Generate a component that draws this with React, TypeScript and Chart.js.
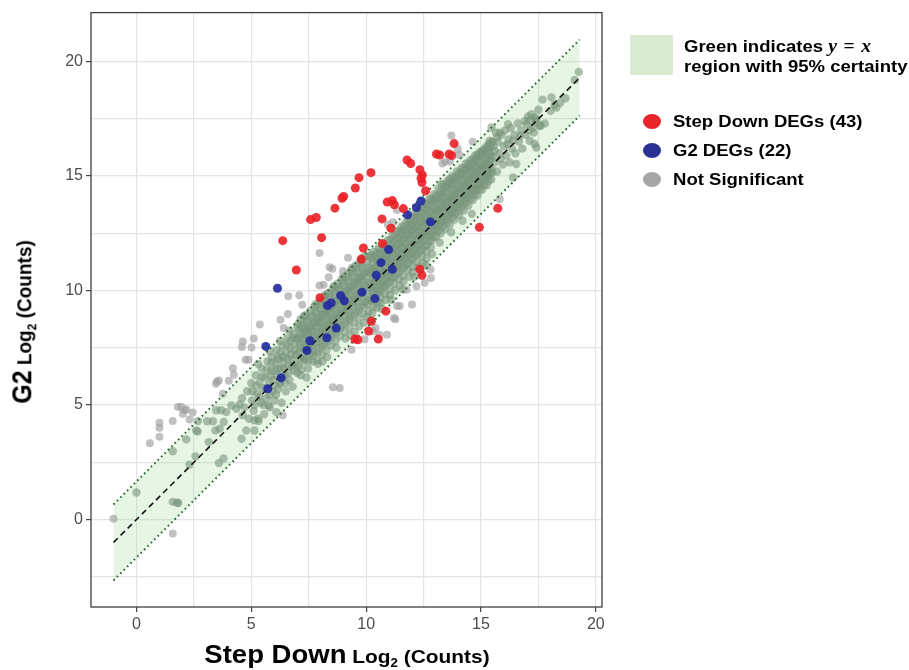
import { useEffect, useRef } from "react";
import { Chart, registerables } from "chart.js";

Chart.register(...registerables);

const FONT = '"Liberation Sans", Arial, Helvetica, sans-serif';

// axis ranges and ticks
const xRange = [-1.98, 20.27];
const yRange = [-3.82, 22.14];
const xGridTicks = [0, 2.5, 5, 7.5, 10, 12.5, 15, 17.5, 20];
const yGridTicks = [-2.5, 0, 2.5, 5, 7.5, 10, 12.5, 15, 17.5, 20];
const tickLabels = [0, 5, 10, 15, 20];

// reference lines (y = x and the 95% band)
const refX = [-1, 19.3];
const refY = [-1, 19.3];
const bandUpperY = [0.66, 20.96];
const bandLowerY = [-2.66, 17.64];

// Not significant, outside the band
const nsOutside: [number, number][] = [
  [-1.0, 0.03], [1.58, -0.61], [0.58, 3.33], [1.0, 4.23], [1.0, 4.01], [1.0, 3.62], [1.58, 4.3], [1.8, 4.91],
  [2.02, 4.62], [2.17, 4.81], [2.45, 4.67], [2.31, 4.37], [1.95, 4.93], [2.09, 4.77],
  [3.5, 6.03], [3.59, 6.07], [4.02, 6.06], [4.2, 6.61], [4.24, 6.32], [3.46, 5.93], [3.76, 5.49], [4.63, 7.78],
  [4.59, 7.53], [5.01, 7.51], [5.11, 7.91], [4.75, 6.98], [4.88, 6.98], [5.37, 8.52], [6.27, 8.72], [6.59, 8.98],
  [6.41, 8.37], [6.61, 9.75], [7.09, 9.8], [7.22, 9.38], [8.15, 10.25], [7.97, 10.22], [8.53, 10.95], [8.37, 10.58],
  [8.99, 10.86], [7.97, 11.64], [9.21, 11.43], [8.41, 11.02], [10.94, 12.88], [11.17, 12.98], [11.34, 13.52],
  [13.32, 15.55], [13.44, 15.63], [13.65, 15.64], [13.71, 16.77], [13.99, 16.18], [14.07, 15.92], [14.64, 16.5],
  [6.37, 4.55], [8.55, 5.78], [8.85, 5.74], [9.36, 7.41], [9.93, 7.87], [10.3, 8.22], [10.41, 8.36], [10.58, 8.07],
  [10.91, 8.07], [11.21, 8.8], [11.27, 8.75], [11.34, 9.33], [11.46, 9.33], [12.0, 9.39], [11.76, 10.04],
  [12.19, 10.19], [12.55, 10.34], [12.8, 10.92], [12.82, 10.55], [15.82, 14.0],
];

// Not significant, inside the band (by stretch of x)
const nsLow: [number, number][] = [
  [0, 1.18], [1.58, 0.77], [1.82, 0.72], [1.77, 0.73], [1.58, 2.98], [2.17, 3.5], [2.57, 2.76], [2.31, 2.4],
  [2.67, 3.85], [2.6, 3.89], [3.15, 3.38], [3.59, 2.47], [3.79, 2.67], [2.68, 4.3], [3.08, 4.29], [3.33, 4.29],
  [3.44, 3.89], [3.62, 3.97], [3.8, 4.26], [3.69, 4.77], [3.47, 4.77], [3.91, 4.69], [4.13, 4.98], [4.35, 4.84],
  [4.49, 5.03], [4.63, 4.55], [4.78, 3.89], [4.58, 3.53], [5.14, 4.33], [5.29, 4.4], [5.14, 3.89], [5.75, 4.98],
  [6.09, 4.69],
  [4.6, 5.3], [4.7, 4.9], [4.82, 5.6], [4.9, 4.4], [5.0, 5.95], [5.03, 5.2], [5.1, 4.75], [5.2, 6.3], [5.25, 5.5],
  [5.32, 4.3], [5.36, 6.0], [5.42, 5.1], [5.45, 6.6], [5.5, 5.72], [5.56, 4.6], [5.6, 6.2], [5.66, 5.3], [5.7, 6.9],
  [5.76, 5.9], [5.8, 4.9], [5.86, 6.5], [5.9, 7.1], [5.92, 5.6], [5.96, 6.1], [6.0, 5.2], [6.05, 6.8], [6.1, 7.4],
  [6.12, 6.3], [6.16, 5.7], [6.2, 7.0], [6.26, 6.0], [6.3, 6.6], [6.32, 5.1], [6.35, 7.6], [6.4, 6.9], [6.46, 6.3],
  [6.5, 5.6], [6.52, 7.3], [6.56, 7.9], [6.6, 6.7], [6.66, 6.1], [6.7, 7.5], [6.76, 7.0], [6.8, 5.8], [6.82, 8.1],
  [6.86, 6.5], [6.9, 7.7], [6.95, 7.2], [7.0, 6.4], [7.0, 8.4], [5.3, 6.8], [5.8, 7.35], [6.25, 7.8], [6.65, 8.25],
  [5.05, 5.6], [5.15, 5.0], [5.22, 5.85], [5.35, 5.35], [5.48, 6.25], [5.52, 5.0], [5.62, 5.75], [5.68, 6.55],
  [5.78, 5.45], [5.84, 6.25], [5.88, 6.85], [5.98, 5.85], [6.03, 6.5], [6.08, 5.45], [6.14, 7.1], [6.18, 6.6],
  [6.24, 5.9], [6.28, 7.3], [6.34, 6.2], [6.38, 7.1], [6.44, 6.6], [6.48, 5.95], [6.54, 7.6], [6.58, 7.0],
  [6.62, 6.4], [6.68, 7.8], [6.72, 7.2], [6.78, 6.7], [6.84, 7.95], [6.88, 7.4], [6.92, 6.8], [6.98, 7.9],
];

const nsMid: [number, number][] = [
  [7.05, 8.55], [7.05, 7.95], [7.07, 7.3], [7.04, 6.7], [7.15, 8.75], [7.16, 8.1], [7.14, 7.5], [7.15, 6.3],
  [7.25, 8.4], [7.24, 7.8], [7.26, 7.1], [7.28, 6.9], [7.35, 8.9], [7.34, 8.3], [7.37, 7.6], [7.33, 7.0],
  [7.45, 8.6], [7.46, 8.0], [7.44, 7.3], [7.47, 6.6], [7.55, 9.1], [7.54, 8.4], [7.57, 7.8], [7.55, 7.2],
  [7.65, 8.8], [7.66, 8.2], [7.63, 7.5], [7.67, 6.9], [7.75, 9.3], [7.74, 8.6], [7.76, 8.0], [7.73, 7.3],
  [7.85, 9.0], [7.86, 8.4], [7.84, 7.7], [7.87, 6.95], [7.95, 9.5], [7.94, 8.8], [7.97, 8.2], [7.95, 7.5],
  [8.05, 9.2], [8.06, 8.6], [8.03, 7.9], [8.07, 7.2], [8.15, 9.7], [8.14, 9.0], [8.16, 8.4], [8.13, 7.7],
  [8.25, 9.4], [8.26, 8.8], [8.24, 8.1], [8.27, 7.4], [8.35, 9.9], [8.34, 9.2], [8.37, 8.6], [8.35, 7.9],
  [8.45, 9.6], [8.46, 9.0], [8.43, 8.3], [8.47, 7.6], [8.55, 10.1], [8.54, 9.4], [8.56, 8.8], [8.53, 8.1],
  [8.65, 9.8], [8.66, 9.2], [8.64, 8.5], [8.67, 7.8], [8.75, 10.3], [8.74, 9.6], [8.77, 9.0], [8.75, 8.3],
  [8.85, 10.0], [8.86, 9.4], [8.83, 8.7], [8.87, 8.0], [8.95, 10.5], [8.94, 9.8], [8.96, 9.2], [8.93, 8.5],
  [9.05, 10.2], [9.06, 9.6], [9.04, 8.9], [9.07, 8.2], [9.15, 10.7], [9.14, 10.0], [9.17, 9.4], [9.15, 8.7],
  [9.25, 10.4], [9.26, 9.8], [9.23, 9.1], [9.27, 8.4], [9.35, 10.9], [9.34, 10.2], [9.36, 9.6], [9.33, 8.9],
  [9.45, 10.6], [9.46, 10.0], [9.44, 9.3], [9.47, 8.6], [9.55, 11.1], [9.54, 10.4], [9.57, 9.8], [9.55, 9.1],
  [9.65, 10.8], [9.66, 10.2], [9.63, 9.5], [9.67, 8.8], [9.75, 11.3], [9.74, 10.6], [9.76, 10.0], [9.73, 9.3],
  [9.85, 11.0], [9.86, 10.4], [9.84, 9.7], [9.87, 9.0], [9.95, 11.5], [9.94, 10.8], [9.97, 10.2], [9.95, 9.5],
  [7.4, 6.2], [7.9, 6.8], [8.3, 7.1], [8.7, 7.5], [9.1, 7.9], [9.5, 8.2], [9.9, 8.6], [8.1, 6.9], [9.3, 8.05],
  [9.7, 8.45], [7.3, 8.9], [7.8, 9.4], [8.2, 9.8], [8.6, 10.2], [9.0, 10.6], [9.4, 11.0], [9.8, 11.4],
  [7.1, 8.3], [7.1, 7.65], [7.12, 7.05], [7.2, 8.5], [7.22, 7.9], [7.19, 6.55], [7.3, 8.15], [7.31, 7.45],
  [7.4, 8.7], [7.42, 8.1], [7.39, 7.45], [7.5, 8.35], [7.51, 7.65], [7.49, 6.95], [7.6, 8.9], [7.61, 8.25],
  [7.62, 7.6], [7.7, 8.55], [7.71, 7.9], [7.69, 7.15], [7.8, 9.1], [7.81, 8.45], [7.82, 7.8], [7.9, 8.75],
  [7.91, 8.1], [7.89, 7.3], [8.0, 9.35], [8.01, 8.65], [8.02, 8.0], [8.1, 8.95], [8.11, 8.3], [8.09, 7.55],
  [8.2, 9.55], [8.21, 8.9], [8.22, 8.2], [8.3, 9.15], [8.31, 8.5], [8.29, 7.75], [8.4, 9.75], [8.41, 9.1],
  [8.42, 8.45], [8.5, 9.35], [8.51, 8.7], [8.49, 7.95], [8.6, 9.95], [8.61, 9.3], [8.62, 8.65], [8.7, 9.55],
  [8.71, 8.9], [8.69, 8.15], [8.8, 10.15], [8.81, 9.5], [8.82, 8.85], [8.9, 9.75], [8.91, 9.1], [8.89, 8.35],
  [9.0, 10.35], [9.01, 9.7], [9.02, 9.05], [9.1, 9.95], [9.11, 9.3], [9.09, 8.55], [9.2, 10.55], [9.21, 9.9],
  [9.22, 9.25], [9.3, 10.15], [9.31, 9.5], [9.29, 8.75], [9.4, 10.75], [9.41, 10.1], [9.42, 9.45], [9.5, 10.35],
  [9.51, 9.7], [9.49, 8.95], [9.6, 10.95], [9.61, 10.3], [9.62, 9.65], [9.7, 10.55], [9.71, 9.9], [9.69, 9.15],
  [9.8, 11.15], [9.81, 10.5], [9.82, 9.85], [9.9, 10.75], [9.91, 10.1], [9.89, 9.35],
];

const nsCore: [number, number][] = [
  [10.05, 11.25], [10.04, 10.65], [10.06, 10.0], [10.05, 9.4], [10.03, 8.85], [10.15, 10.9], [10.16, 10.3],
  [10.14, 9.6], [10.15, 11.5], [10.25, 11.4], [10.24, 10.85], [10.27, 10.2], [10.25, 9.55], [10.26, 9.0],
  [10.35, 11.0], [10.36, 10.4], [10.33, 9.8], [10.35, 11.7], [10.45, 11.6], [10.44, 11.05], [10.46, 10.4],
  [10.45, 9.8], [10.47, 9.25], [10.55, 11.2], [10.56, 10.6], [10.54, 9.95], [10.55, 11.85], [10.65, 11.8],
  [10.64, 11.25], [10.67, 10.6], [10.65, 10.0], [10.63, 9.45], [10.75, 11.4], [10.76, 10.8], [10.74, 10.15],
  [10.75, 12.0], [10.85, 12.0], [10.84, 11.45], [10.86, 10.8], [10.85, 10.2], [10.87, 9.6], [10.95, 11.6],
  [10.96, 11.0], [10.93, 10.35], [10.95, 12.2], [11.05, 12.2], [11.04, 11.65], [11.06, 11.0], [11.05, 10.4],
  [11.03, 9.8], [11.15, 11.8], [11.16, 11.2], [11.14, 10.55], [11.15, 12.4], [11.25, 12.4], [11.24, 11.85],
  [11.27, 11.2], [11.25, 10.6], [11.26, 10.0], [11.35, 12.0], [11.36, 11.4], [11.33, 10.75], [11.35, 12.6],
  [11.45, 12.6], [11.44, 12.05], [11.46, 11.4], [11.45, 10.8], [11.47, 10.2], [11.55, 12.2], [11.56, 11.6],
  [11.54, 10.95], [11.55, 12.8], [11.65, 12.8], [11.64, 12.25], [11.67, 11.6], [11.65, 11.0], [11.63, 10.4],
  [11.75, 12.4], [11.76, 11.8], [11.74, 11.15], [11.75, 13.0], [11.85, 13.0], [11.84, 12.45], [11.86, 11.8],
  [11.85, 11.2], [11.87, 10.6], [11.95, 12.6], [11.96, 12.0], [11.93, 11.35], [11.95, 13.2], [12.05, 13.2],
  [12.04, 12.65], [12.06, 12.0], [12.05, 11.4], [12.03, 10.8], [12.15, 12.8], [12.16, 12.2], [12.14, 11.55],
  [12.15, 13.4], [12.25, 13.4], [12.24, 12.85], [12.27, 12.2], [12.25, 11.6], [12.26, 11.0], [12.35, 13.0],
  [12.36, 12.4], [12.33, 11.75], [12.35, 13.6], [12.45, 13.6], [12.44, 13.05], [12.46, 12.4], [12.45, 11.8],
  [12.47, 11.2], [12.55, 13.2], [12.56, 12.6], [12.54, 11.95], [12.55, 13.8], [12.65, 13.8], [12.64, 13.25],
  [12.67, 12.6], [12.65, 12.0], [12.63, 11.4], [12.75, 13.4], [12.76, 12.8], [12.74, 12.15], [12.75, 14.0],
  [12.85, 14.0], [12.84, 13.45], [12.86, 12.8], [12.85, 12.2], [12.87, 11.6], [12.95, 13.6], [12.96, 13.0],
  [12.93, 12.35], [12.95, 14.2], [10.2, 8.7], [10.7, 9.2], [11.1, 9.6], [11.6, 10.05], [12.1, 10.6], [12.6, 11.1],
  [10.1, 11.0], [10.1, 10.35], [10.12, 9.7], [10.11, 9.1], [10.2, 11.55], [10.21, 10.75], [10.19, 10.1],
  [10.3, 11.2], [10.31, 10.55], [10.29, 9.9], [10.32, 9.3], [10.4, 11.45], [10.41, 10.8], [10.39, 10.15],
  [10.5, 11.35], [10.51, 10.7], [10.49, 10.05], [10.52, 9.5], [10.6, 11.6], [10.61, 10.95], [10.59, 10.3],
  [10.62, 9.7], [10.7, 11.5], [10.71, 10.85], [10.69, 10.25], [10.8, 11.7], [10.81, 11.1], [10.79, 10.45],
  [10.82, 9.85], [10.9, 11.85], [10.91, 11.25], [10.89, 10.55], [11.0, 11.75], [11.01, 11.3], [11.02, 10.65],
  [11.03, 10.05], [11.1, 12.0], [11.11, 11.45], [11.09, 10.8], [11.2, 12.1], [11.21, 11.55], [11.19, 10.9],
  [11.22, 10.3], [11.3, 12.25], [11.31, 11.65], [11.29, 11.0], [11.4, 12.3], [11.41, 11.7], [11.39, 11.1],
  [11.42, 10.5], [11.5, 12.5], [11.51, 11.9], [11.49, 11.25], [11.6, 12.45], [11.61, 11.85], [11.59, 11.3],
  [11.62, 10.65], [11.7, 12.65], [11.71, 12.05], [11.69, 11.4], [11.8, 12.7], [11.81, 12.1], [11.79, 11.5],
  [11.82, 10.9], [11.9, 12.9], [11.91, 12.3], [11.89, 11.6], [12.0, 12.85], [12.01, 12.3], [12.02, 11.65],
  [12.03, 11.05], [12.1, 13.05], [12.11, 12.45], [12.09, 11.8], [12.2, 13.1], [12.21, 12.55], [12.19, 11.9],
  [12.22, 11.25], [12.3, 13.25], [12.31, 12.65], [12.29, 12.0], [12.4, 13.35], [12.41, 12.75], [12.39, 12.1],
  [12.42, 11.5], [12.5, 13.45], [12.51, 12.85], [12.49, 12.2], [12.6, 13.55], [12.61, 12.95], [12.59, 12.3],
  [12.62, 11.7], [12.7, 13.7], [12.71, 13.05], [12.69, 12.4], [12.8, 13.75], [12.81, 13.15], [12.79, 12.5],
  [12.82, 11.9], [12.9, 13.9], [12.91, 13.3], [12.89, 12.6], [12.98, 12.9],
];

const nsHigh: [number, number][] = [
  [13.05, 14.15], [13.04, 13.55], [13.06, 12.95], [13.05, 12.35], [13.15, 13.85], [13.16, 13.25], [13.14, 12.6],
  [13.15, 14.45], [13.25, 14.35], [13.24, 13.75], [13.27, 13.15], [13.25, 12.5], [13.35, 14.05], [13.36, 13.45],
  [13.33, 12.8], [13.35, 14.65], [13.45, 14.55], [13.44, 13.95], [13.46, 13.35], [13.45, 12.7], [13.55, 14.25],
  [13.56, 13.65], [13.54, 13.0], [13.55, 14.8], [13.65, 14.75], [13.64, 14.15], [13.67, 13.55], [13.65, 12.9],
  [13.75, 14.45], [13.76, 13.85], [13.74, 13.2], [13.75, 15.0], [13.85, 14.95], [13.84, 14.35], [13.86, 13.75],
  [13.85, 13.1], [13.95, 14.65], [13.96, 14.05], [13.93, 13.4], [13.95, 15.2], [14.05, 15.15], [14.04, 14.55],
  [14.06, 13.95], [14.05, 13.3], [14.15, 14.85], [14.16, 14.25], [14.14, 13.6], [14.15, 15.35], [14.25, 15.35],
  [14.24, 14.75], [14.27, 14.15], [14.25, 13.5], [14.35, 15.05], [14.36, 14.45], [14.33, 13.8], [14.35, 15.55],
  [14.45, 15.55], [14.44, 14.95], [14.46, 14.35], [14.45, 13.7], [14.55, 15.25], [14.56, 14.65], [14.54, 14.0],
  [14.55, 15.7], [14.65, 15.75], [14.64, 15.15], [14.67, 14.55], [14.65, 13.95], [14.75, 15.45], [14.76, 14.85],
  [14.74, 14.2], [14.75, 15.9], [14.85, 15.95], [14.84, 15.35], [14.86, 14.75], [14.85, 14.15], [14.95, 15.65],
  [14.96, 15.05], [14.93, 14.4], [14.95, 16.05], [15.05, 16.1], [15.04, 15.5], [15.06, 14.95], [15.05, 14.4],
  [15.15, 15.8], [15.16, 15.2], [15.14, 14.6], [15.15, 16.2], [15.25, 16.3], [15.24, 15.7], [15.27, 15.1],
  [15.25, 14.6], [15.35, 16.0], [15.36, 15.4], [15.33, 14.8], [15.35, 16.4], [15.45, 16.45], [15.44, 15.9],
  [15.46, 15.3], [15.45, 14.85], [13.64, 14.87], [13.28, 14.65], [14.51, 15.23], [15.02, 15.99], [15.38, 16.54],
  [13.2, 12.1], [13.7, 12.55], [14.2, 13.05], [14.6, 13.35],
  [13.0, 13.9], [13.01, 13.3], [13.02, 12.65], [13.1, 14.1], [13.11, 13.5], [13.09, 12.85], [13.2, 14.05],
  [13.21, 13.45], [13.19, 12.85], [13.3, 14.25], [13.31, 13.65], [13.29, 13.0], [13.4, 14.3], [13.41, 13.7],
  [13.39, 13.05], [13.5, 14.5], [13.51, 13.85], [13.49, 13.25], [13.6, 14.5], [13.61, 13.9], [13.59, 13.25],
  [13.7, 14.65], [13.71, 14.05], [13.69, 13.4], [13.8, 14.7], [13.81, 14.1], [13.79, 13.45], [13.9, 14.85],
  [13.91, 14.25], [13.89, 13.6], [14.0, 14.9], [14.01, 14.3], [13.99, 13.65], [14.1, 15.05], [14.11, 14.45],
  [14.09, 13.8], [14.2, 15.1], [14.21, 14.5], [14.19, 13.85], [14.3, 15.25], [14.31, 14.65], [14.29, 14.0],
  [14.4, 15.3], [14.41, 14.7], [14.39, 14.05], [14.5, 15.45], [14.51, 14.85], [14.49, 14.2], [14.6, 15.5],
  [14.61, 14.9], [14.59, 14.25], [14.7, 15.6], [14.71, 15.0], [14.69, 14.4], [14.8, 15.7], [14.81, 15.1],
  [14.79, 14.45], [14.9, 15.85], [14.91, 15.25], [14.89, 14.6], [15.0, 15.85], [15.01, 15.3], [14.99, 14.7],
  [15.1, 16.0], [15.11, 15.4], [15.09, 14.8], [15.2, 16.05], [15.21, 15.5], [15.19, 14.9], [15.3, 16.2],
  [15.31, 15.6], [15.29, 15.0], [15.4, 16.25], [15.41, 15.7], [15.39, 15.1], [15.5, 16.5], [15.51, 15.85],
  [15.49, 15.15],
];

const nsTop: [number, number][] = [
  [15.55, 16.3], [15.6, 15.6], [15.65, 16.9], [15.7, 15.2], [15.75, 16.5], [15.8, 16.0], [15.9, 16.8], [15.95, 15.5],
  [16.0, 16.3], [16.05, 17.0], [16.1, 15.9], [16.2, 16.6], [16.25, 15.6], [16.3, 17.1], [16.35, 16.2], [16.45, 16.8],
  [16.5, 16.0], [16.6, 17.3], [16.65, 16.5], [16.75, 17.0], [16.8, 16.2], [16.9, 17.4], [16.95, 16.8], [17.05, 17.6],
  [17.1, 17.0], [17.2, 17.7], [17.3, 16.9], [17.4, 17.5], [17.5, 17.9], [17.6, 17.2], [17.34, 17.56], [17.41, 17.38],
  [17.12, 17.44], [16.98, 17.27], [17.27, 17.12], [17.56, 17.2], [17.78, 17.3], [16.18, 17.27], [15.82, 16.9],
  [15.46, 17.12], [16.54, 15.53], [16.4, 14.94], [17.12, 16.54], [17.34, 16.4], [17.41, 16.25], [17.68, 18.34],
  [18.07, 18.43], [18.68, 18.4], [18.29, 17.99], [18.2, 18.11], [18.03, 17.85], [18.45, 18.2], [19.08, 19.2],
  [19.26, 19.55], [15.7, 16.7], [15.85, 15.75], [16.15, 16.4], [16.4, 16.55], [16.7, 16.75], [15.6, 16.1],
];

// Step Down DEGs (43)
const stepDownDEGs: [number, number][] = [
  [6.37, 12.18], [6.96, 10.9], [7.58, 13.1], [7.83, 13.19], [8.06, 12.31], [8.64, 13.6], [8.95, 14.03], [9.02, 14.11],
  [9.53, 14.48], [9.69, 14.93], [10.21, 15.15], [10.69, 13.13], [9.88, 11.86], [9.79, 11.37], [10.92, 13.87],
  [11.14, 13.93], [11.23, 13.75], [11.62, 13.58], [11.08, 12.72], [10.71, 12.06], [11.78, 15.7], [11.94, 15.55],
  [12.34, 15.28], [12.39, 14.9], [12.43, 14.72], [12.59, 14.36], [13.06, 15.96], [13.2, 15.92], [13.61, 15.96],
  [13.73, 15.9], [13.83, 16.42], [12.34, 10.93], [12.43, 10.67], [14.93, 12.76], [7.99, 9.69], [10.86, 9.1],
  [10.23, 8.66], [10.11, 8.23], [9.51, 7.88], [9.64, 7.85], [10.53, 7.88], [15.73, 13.59], [12.45, 15.05],
];

// G2 DEGs (22)
const g2DEGs: [number, number][] = [
  [12.39, 13.91], [12.19, 13.63], [11.8, 13.31], [12.8, 13.0], [10.98, 11.79], [10.65, 11.22], [11.14, 10.93],
  [10.44, 10.67], [6.14, 10.1], [8.89, 9.78], [9.82, 9.93], [10.38, 9.65], [8.32, 9.35], [8.48, 9.46], [8.7, 8.36],
  [7.55, 7.81], [8.29, 7.94], [7.42, 7.38], [5.63, 7.56], [6.3, 6.19], [5.72, 5.71], [9.05, 9.55],
];

const pts = (a: [number, number][]) => a.map(([x, y]) => ({ x, y }));
const line = (xs: number[], ys: number[]) => xs.map((x, i) => ({ x, y: ys[i] }));

const panelBorder = {
  id: "panelBorder",
  afterDraw(chart: any) {
    const { ctx, chartArea } = chart;
    const { left, top, right, bottom } = chartArea;
    ctx.save();
    ctx.strokeStyle = "#3a3f44";
    ctx.lineWidth = 1.3;
    ctx.strokeRect(left, top, right - left, bottom - top);
    ctx.restore();
  },
};

function axisCommon(ticks: number[]) {
  return {
    type: "linear" as const,
    afterBuildTicks: (s: any) => {
      s.ticks = ticks.map((v) => ({ value: v }));
    },
    grid: {
      color: "#e1e4e9",
      lineWidth: 1.2,
      tickLength: 5,
      tickColor: (c: any) =>
        c.tick && tickLabels.includes(c.tick.value) ? "#444" : "rgba(0,0,0,0)",
    },
    border: { display: false },
    ticks: {
      autoSkip: false,
      maxRotation: 0,
      padding: 3,
      color: "#4d4d4d",
      font: { family: FONT, size: 16 },
      callback: (v: any) => (tickLabels.includes(Number(v)) ? String(v) : ""),
    },
  };
}

export default function App() {
  const ref = useRef<HTMLCanvasElement>(null);

  useEffect(() => {
    if (!ref.current) return;
    const chart = new Chart(ref.current, {
      type: "scatter",
      data: {
        datasets: [
          {
            type: "line",
            label: "bandTop",
            data: line(refX, bandUpperY),
            borderWidth: 0,
            pointRadius: 0,
            fill: "+1",
            backgroundColor: "rgba(160,215,150,0.25)",
            order: 6,
          } as any,
          {
            type: "line",
            label: "bandBottom",
            data: line(refX, bandLowerY),
            borderWidth: 0,
            pointRadius: 0,
            fill: false,
            order: 6,
          } as any,
          {
            label: "outside",
            data: pts(nsOutside),
            backgroundColor: "rgba(160,160,160,0.65)",
            borderWidth: 0,
            pointRadius: 4,
            order: 4,
          },
          {
            label: "inside",
            data: pts([...nsLow, ...nsMid, ...nsCore, ...nsHigh, ...nsTop]),
            backgroundColor: "rgba(120,148,124,0.6)",
            borderWidth: 0,
            pointRadius: 4.2,
            order: 4,
          },
          {
            type: "line",
            label: "upper",
            data: line(refX, bandUpperY),
            borderColor: "#24682c",
            borderWidth: 2,
            borderDash: [1.6, 3.2],
            pointRadius: 0,
            fill: false,
            order: 2,
          } as any,
          {
            type: "line",
            label: "lower",
            data: line(refX, bandLowerY),
            borderColor: "#24682c",
            borderWidth: 2,
            borderDash: [1.6, 3.2],
            pointRadius: 0,
            fill: false,
            order: 2,
          } as any,
          {
            type: "line",
            label: "y=x",
            data: line(refX, refY),
            borderColor: "#111",
            borderWidth: 1.6,
            borderDash: [6, 4],
            pointRadius: 0,
            fill: false,
            order: 2,
          } as any,
          {
            label: "G2 DEGs (22)",
            data: pts(g2DEGs),
            backgroundColor: "rgba(36,46,160,0.92)",
            borderWidth: 0,
            pointRadius: 4.5,
            order: 1,
          },
          {
            label: "Step Down DEGs (43)",
            data: pts(stepDownDEGs),
            backgroundColor: "rgba(234,32,38,0.9)",
            borderWidth: 0,
            pointRadius: 4.5,
            order: 0,
          },
        ],
      },
      options: {
        responsive: false,
        animation: false,
        layout: { padding: { left: 0, right: 307, top: 12, bottom: 0 } },
        plugins: { legend: { display: false }, tooltip: { enabled: false } },
        scales: {
          x: {
            ...axisCommon(xGridTicks),
            min: xRange[0],
            max: xRange[1],
            afterFit: (s: any) => {
              s.height = 63;
            },
          } as any,
          y: {
            ...axisCommon(yGridTicks),
            min: yRange[0],
            max: yRange[1],
            afterFit: (s: any) => {
              s.width = 91;
            },
          } as any,
        },
      },
      plugins: [panelBorder],
    });
    return () => chart.destroy();
  }, []);

  const txt: React.CSSProperties = {
    position: "absolute",
    whiteSpace: "nowrap",
    fontFamily: FONT,
    fontWeight: 700,
    color: "#000",
  };
  const sub: React.CSSProperties = { fontSize: 12, position: "relative", top: 4 };
  const dot = (c: string, y: number): React.CSSProperties => ({
    position: "absolute",
    left: 651.7 - 9,
    top: y - 7.5,
    width: 18,
    height: 15,
    borderRadius: "50%",
    background: c,
  });
  const item = (y: number): React.CSSProperties => ({
    ...txt,
    left: 673,
    top: y - 8.3,
    fontSize: 17,
    lineHeight: "17px",
    transform: "scaleX(1.09)",
    transformOrigin: "left center",
  });

  return (
    <div style={{ position: "absolute", left: 0, top: 0, width: 909, height: 670, background: "#fff" }}>
      <canvas ref={ref} width={909} height={670} style={{ position: "absolute", left: 0, top: 0, width: 909, height: 670 }} />

      <div style={{ ...txt, left: 347, top: 642, lineHeight: "25px", transform: "translateX(-50%) scaleX(1.1)" }}>
        <span style={{ fontSize: 25 }}>Step Down</span>
        <span style={{ fontSize: 19 }}>
          {" "}Log<span style={sub}>2</span> (Counts)
        </span>
      </div>

      <div
        style={{
          ...txt,
          left: 25.4,
          top: 322,
          lineHeight: "25px",
          transform: "translate(-50%, -50%) rotate(-90deg) scaleY(1.1)",
        }}
      >
        <span style={{ fontSize: 25 }}>G2</span>
        <span style={{ fontSize: 19 }}>
          {" "}Log<span style={sub}>2</span> (Counts)
        </span>
      </div>

      <div style={{ position: "absolute", left: 630, top: 35, width: 43, height: 40, background: "#d9ecd3" }} />
      <div
        style={{
          ...txt,
          left: 684,
          top: 35.8,
          fontSize: 17,
          lineHeight: "20px",
          transform: "scaleX(1.09)",
          transformOrigin: "left top",
        }}
      >
        <div>
          Green indicates{" "}
          <span style={{ fontFamily: '"Liberation Serif", "DejaVu Serif", serif', fontStyle: "italic", fontSize: 18 }}>
            y<span style={{ fontStyle: "normal", margin: "0 6px" }}>=</span>x
          </span>
        </div>
        <div>region with 95% certainty</div>
      </div>

      <div style={dot("#e8252b", 121.3)} />
      <div style={item(121.7)}>Step Down DEGs (43)</div>
      <div style={dot("#2a3296", 150.7)} />
      <div style={item(150)}>G2 DEGs (22)</div>
      <div style={dot("#a6a6a6", 179.3)} />
      <div style={item(179.3)}>Not Significant</div>
    </div>
  );
}
